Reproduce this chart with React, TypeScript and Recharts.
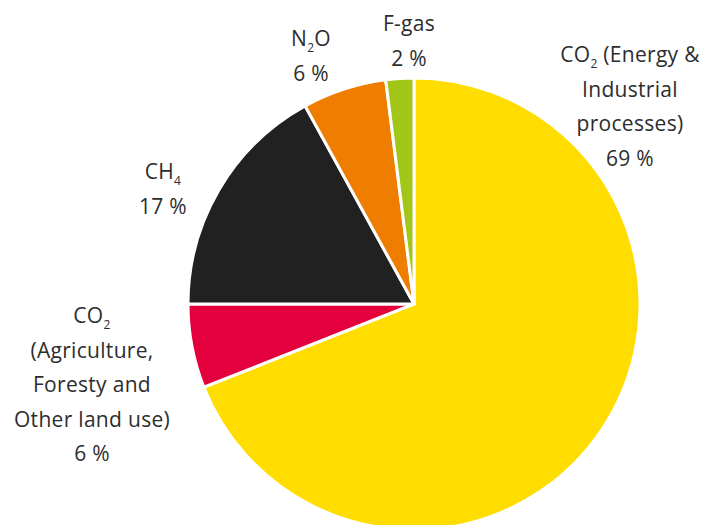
import { PieChart, Pie, Cell } from "recharts";

// Greenhouse gas emission shares, clockwise from 12 o'clock
const gases = ["CO2 energy & industry", "CO2 AFOLU", "CH4", "N2O", "F-gas"];
const shares = [69, 6, 17, 6, 2];
const colors = ["#ffdd00", "#e4003d", "#212121", "#ef7d00", "#a2c617"];

// label text, {n} marks a subscript digit
const labelLines = [
  ["CO{2} (Energy &", "Industrial", "processes)"],
  ["CO{2}", "(Agriculture,", "Foresty and", "Other land use)"],
  ["CH{4}"],
  ["N{2}O"],
  ["F-gas"],
];

// label block anchor (centre x, first baseline) relative to the pie centre
const labelOffsets = [
  [216, -242],
  [-322, 19],
  [-251, -125],
  [-103, -258],
  [-5, -273],
];

const LINE_HEIGHT = 34.5;
const SUB_SHIFT = 6;

const data = gases.map((name, i) => ({ name, value: shares[i] }));

function renderParts(line: string) {
  const parts = line.split(/\{(\d)\}/);
  const out: JSX.Element[] = [];
  parts.forEach((part, i) => {
    if (part === "") return;
    if (i % 2 === 1) {
      out.push(
        <tspan key={i} fontSize={12} dy={SUB_SHIFT}>
          {part}
        </tspan>
      );
    } else {
      out.push(
        <tspan key={i} dy={i > 0 ? -SUB_SHIFT : 0}>
          {part}
        </tspan>
      );
    }
  });
  return out;
}

function renderLabel(props: any) {
  const { cx, cy, index, value } = props;
  const [dx, dy] = labelOffsets[index];
  const lines = [...labelLines[index], `${value} %`];
  return (
    <text
      key={`label-${index}`}
      textAnchor="middle"
      fill="#2d2d2d"
      fontFamily="'Open Sans', sans-serif"
      fontSize={21}
      letterSpacing={0.3}
    >
      {lines.map((line, i) => (
        <tspan key={i} x={cx + dx} y={cy + dy + i * LINE_HEIGHT}>
          {renderParts(line)}
        </tspan>
      ))}
    </text>
  );
}

export default function App() {
  return (
    <div
      style={{
        position: "absolute",
        left: 0,
        top: 0,
        width: 704,
        height: 525,
        background: "#fff",
        overflow: "hidden",
      }}
    >
      <PieChart width={704} height={525} margin={{ top: 0, right: 0, bottom: 0, left: 0 }}>
        <Pie
          data={data}
          dataKey="value"
          nameKey="name"
          cx={414}
          cy={304}
          outerRadius={226}
          startAngle={90}
          endAngle={-270}
          stroke="#ffffff"
          strokeWidth={3}
          label={renderLabel}
          labelLine={false}
          isAnimationActive={false}
        >
          {data.map((d, i) => (
            <Cell key={d.name} fill={colors[i]} />
          ))}
        </Pie>
      </PieChart>
    </div>
  );
}
